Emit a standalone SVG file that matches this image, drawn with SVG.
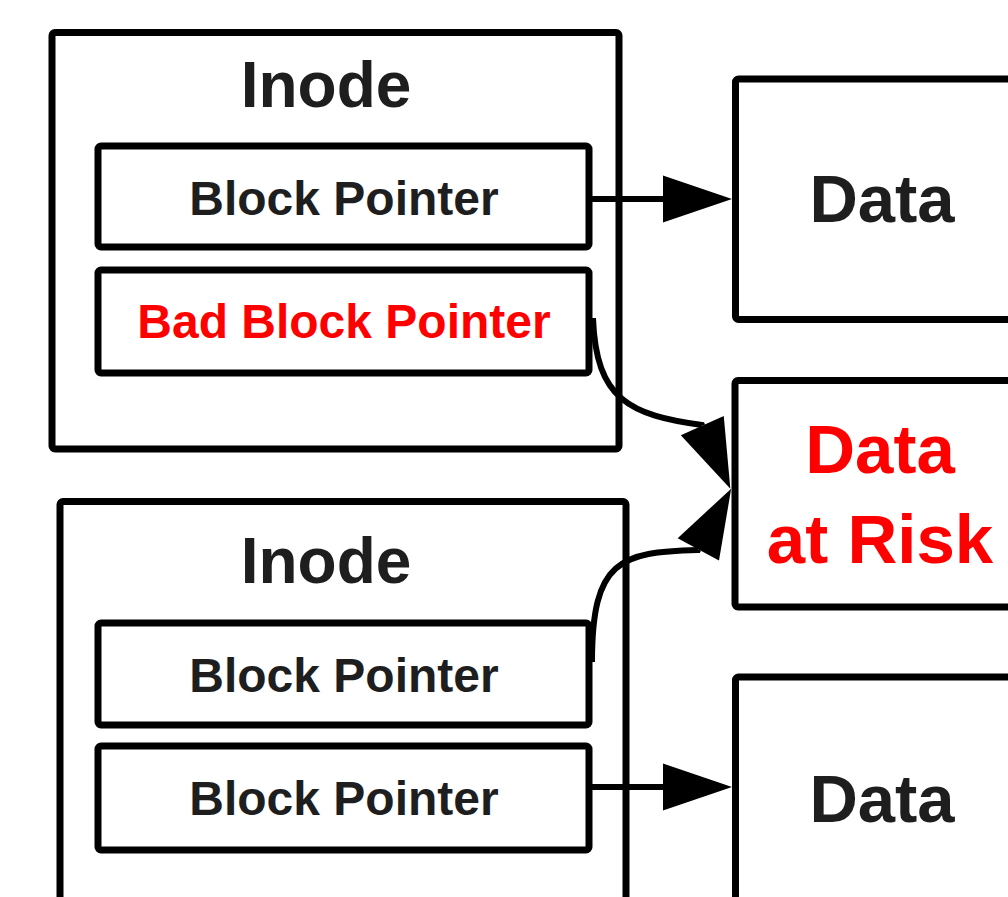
<svg xmlns="http://www.w3.org/2000/svg" width="1008" height="897" viewBox="0 0 1008 897">
  <defs>
    <style>
      .box { fill: #ffffff; stroke: #000000; stroke-width: 7; stroke-linejoin: round; }
      .wire { fill: none; stroke: #000000; stroke-width: 6; }
      .lbl { font-family: "Liberation Sans", Arial, Helvetica, sans-serif; font-weight: bold; text-anchor: middle; fill: #1e1e1e; }
      .title { font-size: 64px; }
      .ptr { font-size: 48px; }
      .blk { font-size: 67px; }
      .risk { font-size: 69px; }
      .bad { fill: #ff0000; }
    </style>
    <marker id="head" markerUnits="userSpaceOnUse" markerWidth="80" markerHeight="60" refX="0" refY="0" orient="auto" overflow="visible">
      <path d="M0,-23.5 L69,0 L0,23.5 Z" fill="#000000"/>
    </marker>
  </defs>

  <rect width="1008" height="897" fill="#ffffff"/>

  <!-- first inode with its two pointers -->
  <g id="inode1">
    <rect class="box" x="52" y="32.5" width="567" height="416.5" rx="3"/>
    <text class="lbl title" x="326" y="107">Inode</text>
  </g>
  <g id="ptr1">
    <rect class="box" x="98" y="146" width="491" height="101" rx="3"/>
    <text class="lbl ptr" x="344" y="215">Block Pointer</text>
  </g>
  <g id="ptr2">
    <rect class="box" x="98" y="270" width="491" height="103" rx="3"/>
    <text class="lbl ptr bad" x="344" y="338">Bad Block Pointer</text>
  </g>

  <!-- second inode with its two pointers -->
  <g id="inode2">
    <rect class="box" x="60" y="501.5" width="566" height="500" rx="3"/>
    <text class="lbl title" x="326" y="583">Inode</text>
  </g>
  <g id="ptr3">
    <rect class="box" x="98" y="623" width="491" height="102" rx="3"/>
    <text class="lbl ptr" x="344" y="692">Block Pointer</text>
  </g>
  <g id="ptr4">
    <rect class="box" x="98" y="746" width="491" height="104" rx="3"/>
    <text class="lbl ptr" x="344" y="815">Block Pointer</text>
  </g>

  <!-- data blocks -->
  <g id="data1">
    <rect class="box" x="735.5" y="79" width="400" height="240.5" rx="3"/>
    <text class="lbl blk" x="882" y="222">Data</text>
  </g>
  <g id="data-risk">
    <rect class="box" x="735" y="380.5" width="400" height="226.5" rx="3"/>
    <text class="lbl risk bad" x="880" y="473">Data</text>
    <text class="lbl risk bad" x="880" y="563">at Risk</text>
  </g>
  <g id="data3">
    <rect class="box" x="735.5" y="677" width="400" height="400" rx="3"/>
    <text class="lbl blk" x="882" y="822">Data</text>
  </g>

  <!-- pointer connectors -->
  <g id="connectors">
    <path class="wire" d="M589,199 L663,199" marker-end="url(#head)"/>
    <path class="wire" d="M589,787 L663,787" marker-end="url(#head)"/>
    <path class="wire" d="M593,318 C596,400 630,415 702,425 l0.285,0.64" marker-end="url(#head)"/>
    <path class="wire" d="M592,662 C592,560 620,552 698,550 l0.33,-0.61" marker-end="url(#head)"/>
  </g>
</svg>
